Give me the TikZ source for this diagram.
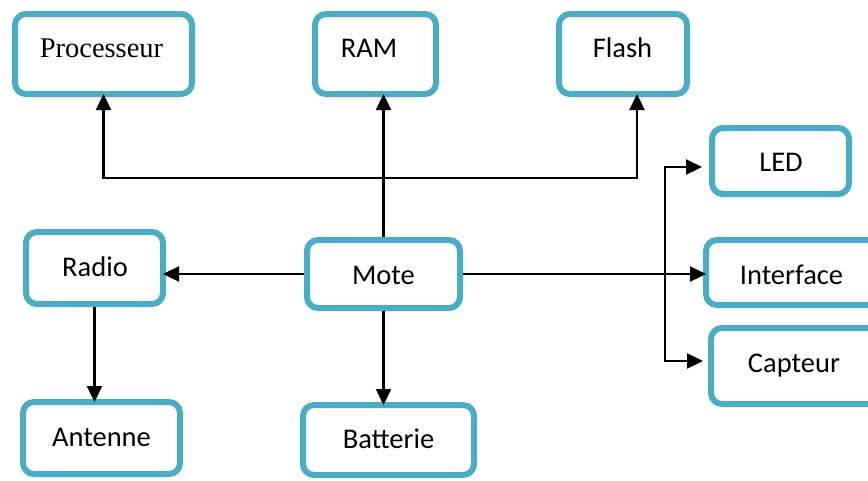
\documentclass[tikz,border=0pt]{standalone}
\usepackage{fontspec}
\setmainfont{Carlito}
\newfontfamily\procfont{Liberation Serif}
\usetikzlibrary{arrows.meta}
\definecolor{boxteal}{RGB}{75,172,198}
\begin{document}
\begin{tikzpicture}[x=1pt,y=-1pt,
  box/.style={draw=boxteal, line width=6pt, rounded corners=11pt, fill=white,
              inner sep=0pt, outer sep=3pt},
  lbl/.style={anchor=base, inner sep=0pt, outer sep=0pt,
              font=\fontsize{28.5}{34}\selectfont},
  tip/.tip={Triangle[length=16pt,width=15pt]},
  link/.style={line width=2.3pt, -tip, shorten >=-3pt},
  twoway/.style={line width=2.3pt, tip-tip},
]
\useasboundingbox (0,0) rectangle (868,480);
\clip (0,0) rectangle (868,480);

% boxes
\node[box, minimum width=177pt, minimum height=80pt] (proc)  at (103.5,54) {};
\node[box, minimum width=121pt, minimum height=80pt] (ram)   at (375.5,54) {};
\node[box, minimum width=128pt, minimum height=80pt] (flash) at (623,54) {};
\node[box, minimum width=137pt, minimum height=66pt] (led)   at (780.5,161) {};
\node[box, minimum width=200pt, minimum height=65pt] (iface) at (806,272.5) {};
\node[box, minimum width=200pt, minimum height=76pt] (capt)  at (811,366) {};
\node[box, minimum width=137pt, minimum height=72pt] (radio) at (94.5,268) {};
\node[box, minimum width=153pt, minimum height=68pt] (mote)  at (383.5,274) {};
\node[box, minimum width=157pt, minimum height=72pt] (ant)   at (101.5,438) {};
\node[box, minimum width=171pt, minimum height=70pt] (batt)  at (388.5,440) {};

% labels
\node[lbl, font=\procfont\fontsize{28.5}{34}\selectfont] (proc-t) at (101.5,57) {Processeur};
\node[lbl] (ram-t)   at (369,57.3) {RAM};
\node[lbl] (flash-t) at (622.5,57) {Flash};
\node[lbl] (led-t)   at (781,171) {LED};
\node[lbl] (iface-t) at (791.5,284) {Interface};
\node[lbl] (capt-t)  at (794,372) {Capteur};
\node[lbl] (radio-t) at (95,276) {Radio};
\node[lbl] (mote-t)  at (383.5,284) {Mote};
\node[lbl] (ant-t)   at (101.5,446) {Antenne};
\node[lbl] (batt-t)  at (388.5,448) {Batterie};

% junction points
\coordinate (busR) at (637,178);
\coordinate (ledj) at (665,167);
\coordinate (capj) at (665,361);

% connectors
\draw[link] (mote.north) -- (mote.north |- ram.south);
\draw[twoway, shorten <=-3pt, shorten >=-3pt]
  (proc.south) -- (proc.south |- busR) -- (busR) -- (busR |- flash.south);
\draw[link] (mote.west) -- (radio.east |- mote.west);
\draw[link] (radio.south) -- (radio.south |- ant.north);
\draw[link] (mote.south) -- (mote.south |- batt.north);
\draw[link] (mote.east) -- (mote.east -| iface.west);
\draw[twoway, shorten <=7pt, shorten >=5pt]
  (ledj -| led.west) -- (ledj) -- (capj) -- (capj -| capt.west);
\end{tikzpicture}
\end{document}
